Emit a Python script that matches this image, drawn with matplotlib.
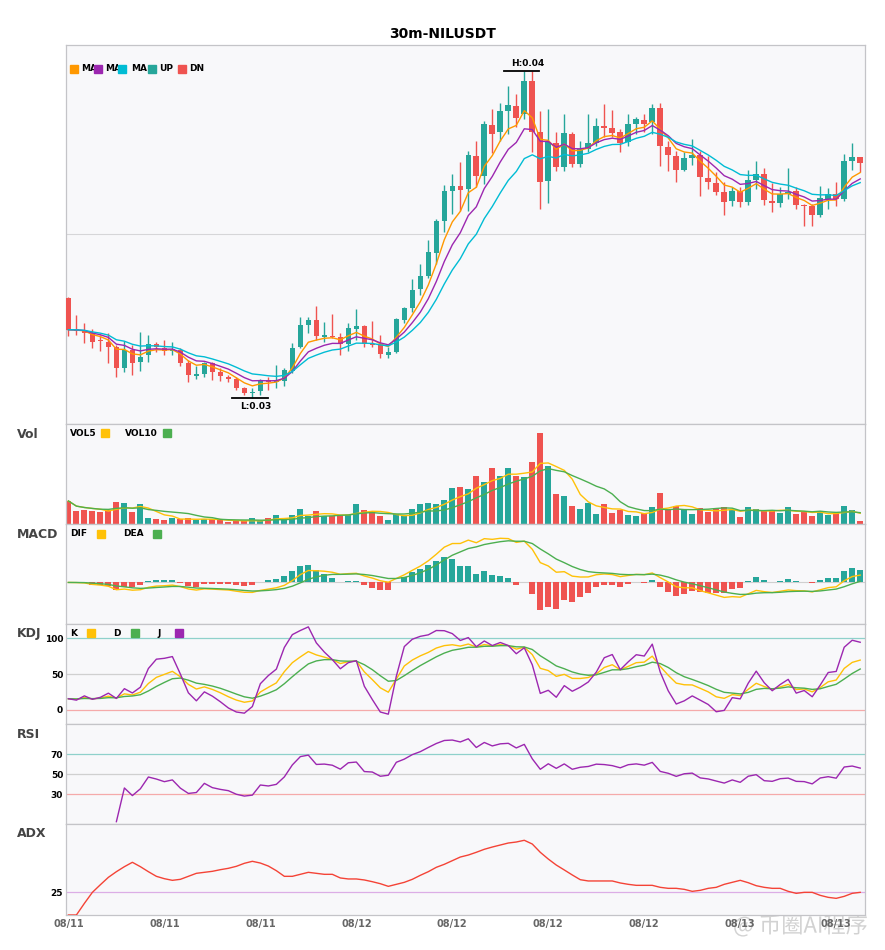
import numpy as np
import pandas as pd
import matplotlib
matplotlib.use("Agg")
import matplotlib.pyplot as plt
import matplotlib.patheffects as pe
from matplotlib.transforms import Bbox, TransformedBbox

TITLE = "30m-NILUSDT"

opens = [0.03408, 0.03284, 0.03280, 0.03268, 0.03240, 0.03232, 0.03212, 0.03128, 0.03200, 0.03152,
         0.03180, 0.03224, 0.03208, 0.03196, 0.03200, 0.03148, 0.03096, 0.03104, 0.03148, 0.03112,
         0.03092, 0.03084, 0.03048, 0.03028, 0.03036, 0.03080, 0.03072, 0.03076, 0.03116, 0.03212,
         0.03300, 0.03320, 0.03252, 0.03256, 0.03252, 0.03224, 0.03284, 0.03296, 0.03224, 0.03220,
         0.03180, 0.03192, 0.03320, 0.03368, 0.03444, 0.03496, 0.03588, 0.03712, 0.03832, 0.03852,
         0.03840, 0.03972, 0.03892, 0.04096, 0.04068, 0.04152, 0.04172, 0.04140, 0.04272, 0.04068,
         0.03872, 0.04024, 0.03928, 0.04060, 0.03940, 0.04000, 0.04024, 0.04092, 0.04084, 0.04068,
         0.04028, 0.04100, 0.04116, 0.04108, 0.04164, 0.04008, 0.03972, 0.03916, 0.03964, 0.03976,
         0.03884, 0.03864, 0.03828, 0.03792, 0.03832, 0.03788, 0.03876, 0.03900, 0.03792, 0.03784,
         0.03820, 0.03832, 0.03776, 0.03772, 0.03736, 0.03800, 0.03820, 0.03800, 0.03952, 0.03968]
highs = [0.03412, 0.03340, 0.03308, 0.03284, 0.03260, 0.03268, 0.03220, 0.03236, 0.03220, 0.03272,
         0.03260, 0.03232, 0.03240, 0.03232, 0.03208, 0.03160, 0.03136, 0.03152, 0.03152, 0.03128,
         0.03100, 0.03092, 0.03052, 0.03048, 0.03084, 0.03092, 0.03140, 0.03128, 0.03228, 0.03332,
         0.03332, 0.03376, 0.03312, 0.03344, 0.03268, 0.03308, 0.03364, 0.03300, 0.03316, 0.03260,
         0.03212, 0.03328, 0.03372, 0.03484, 0.03544, 0.03640, 0.03720, 0.03856, 0.03900, 0.03948,
         0.03992, 0.04032, 0.04112, 0.04160, 0.04184, 0.04252, 0.04220, 0.04312, 0.04312, 0.04152,
         0.04160, 0.04068, 0.04140, 0.04068, 0.04032, 0.04140, 0.04124, 0.04180, 0.04156, 0.04080,
         0.04140, 0.04128, 0.04140, 0.04180, 0.04184, 0.04032, 0.03992, 0.03988, 0.04040, 0.03992,
         0.03972, 0.03908, 0.03868, 0.03848, 0.03848, 0.03916, 0.03952, 0.03924, 0.03864, 0.03848,
         0.03924, 0.03848, 0.03780, 0.03780, 0.03852, 0.03844, 0.03868, 0.03980, 0.04024, 0.03968]
lows = [0.03256, 0.03260, 0.03228, 0.03208, 0.03196, 0.03148, 0.03092, 0.03112, 0.03100, 0.03116,
        0.03152, 0.03192, 0.03180, 0.03180, 0.03136, 0.03072, 0.03084, 0.03092, 0.03080, 0.03076,
        0.03072, 0.03040, 0.03020, 0.03008, 0.03020, 0.03040, 0.03048, 0.03056, 0.03108, 0.03208,
        0.03268, 0.03240, 0.03232, 0.03248, 0.03180, 0.03196, 0.03240, 0.03212, 0.03212, 0.03168,
        0.03168, 0.03188, 0.03308, 0.03352, 0.03420, 0.03488, 0.03544, 0.03668, 0.03740, 0.03752,
        0.03752, 0.03848, 0.03860, 0.03984, 0.04032, 0.04060, 0.04088, 0.04120, 0.03988, 0.03760,
        0.03784, 0.03912, 0.03912, 0.03928, 0.03928, 0.03988, 0.04012, 0.04048, 0.04048, 0.03988,
        0.04012, 0.04060, 0.04068, 0.04060, 0.03932, 0.03912, 0.03868, 0.03912, 0.03936, 0.03812,
        0.03840, 0.03816, 0.03736, 0.03772, 0.03768, 0.03776, 0.03840, 0.03776, 0.03748, 0.03768,
        0.03800, 0.03760, 0.03692, 0.03692, 0.03728, 0.03760, 0.03772, 0.03792, 0.03916, 0.03908]
closes = [0.03280, 0.03276, 0.03268, 0.03232, 0.03236, 0.03212, 0.03128, 0.03200, 0.03148, 0.03172,
          0.03224, 0.03212, 0.03196, 0.03204, 0.03148, 0.03100, 0.03104, 0.03148, 0.03112, 0.03096,
          0.03084, 0.03048, 0.03028, 0.03032, 0.03080, 0.03072, 0.03080, 0.03120, 0.03208, 0.03300,
          0.03320, 0.03256, 0.03260, 0.03252, 0.03224, 0.03288, 0.03296, 0.03224, 0.03220, 0.03184,
          0.03192, 0.03324, 0.03368, 0.03440, 0.03496, 0.03592, 0.03712, 0.03832, 0.03852, 0.03836,
          0.03976, 0.03892, 0.04100, 0.04060, 0.04152, 0.04176, 0.04124, 0.04272, 0.04068, 0.03868,
          0.04028, 0.03928, 0.04064, 0.03940, 0.04000, 0.04024, 0.04092, 0.04084, 0.04064, 0.04024,
          0.04100, 0.04120, 0.04100, 0.04164, 0.04012, 0.03976, 0.03916, 0.03964, 0.03976, 0.03888,
          0.03868, 0.03828, 0.03788, 0.03832, 0.03788, 0.03876, 0.03900, 0.03796, 0.03784, 0.03820,
          0.03828, 0.03776, 0.03772, 0.03736, 0.03804, 0.03820, 0.03800, 0.03952, 0.03968, 0.03944]
volumes = [230, 127, 137, 127, 117, 137, 217, 207, 117, 197,
           57, 47, 37, 57, 47, 57, 37, 47, 47, 37,
           17, 27, 27, 57, 27, 57, 87, 47, 87, 147,
           77, 127, 77, 77, 87, 87, 197, 137, 127, 77,
           37, 97, 77, 147, 197, 207, 197, 237, 357, 367,
           347, 477, 417, 557, 477, 557, 477, 467, 617, 907,
           577, 297, 277, 177, 147, 207, 97, 197, 107, 137,
           87, 77, 107, 167, 307, 137, 177, 137, 97, 157,
           117, 147, 167, 137, 67, 167, 147, 137, 127, 107,
           167, 97, 127, 77, 127, 87, 107, 177, 137, 27]
adx_vals = [0, 0, 12.8, 24.9, 33.3, 41.4, 47.6, 53.1, 57.9, 53.1,
            47.6, 42.5, 39.9, 38.1, 39.2, 42.5, 45.8, 46.9, 48.0, 49.8,
            51.3, 53.5, 56.8, 59.0, 57.1, 53.8, 48.7, 42.5, 42.5, 44.7,
            46.9, 45.8, 44.7, 44.7, 40.7, 39.6, 39.6, 38.5, 36.6, 34.4,
            31.5, 33.7, 35.9, 39.2, 43.6, 47.6, 52.4, 55.7, 59.7, 63.7,
            65.9, 68.9, 72.2, 74.7, 76.9, 79.1, 80.2, 82.1, 78.0, 68.9,
            61.5, 54.9, 49.5, 44.0, 38.8, 37.4, 37.4, 37.4, 37.4, 35.2,
            33.7, 32.6, 32.6, 32.6, 30.4, 29.3, 29.3, 28.2, 26.0, 27.1,
            29.3, 30.4, 33.7, 35.9, 38.1, 35.5, 32.2, 30.4, 29.3, 29.3,
            26.0, 23.8, 24.9, 24.9, 21.6, 19.4, 18.3, 20.5, 23.8, 24.9]
times = pd.date_range("2024-08-11 06:00", periods=len(closes), freq="30min")
ma_spans = [5, 8, 13]
macd_fast, macd_slow, macd_signal = 6, 13, 6

UP, DN = "#26a69a", "#ef5350"
MA_COLORS = ["#ff9800", "#9c27b0", "#00bcd4"]
YEL, GRN, PUR = "#ffc107", "#4caf50", "#9c27b0"
BG = "#f8f8fa"
SPINE = "#c4c4c8"

c = pd.Series(closes)
o = pd.Series(opens)
h = pd.Series(highs)
l = pd.Series(lows)
v = pd.Series(volumes, dtype=float)
x = np.arange(len(c))
up = (c >= o).values

ma_lines = [c.ewm(span=n, adjust=False).mean() for n in ma_spans]
ma_labels = [f"MA{n}" for n in ma_spans]

vol5 = v.rolling(5, min_periods=1).mean()
vol10 = v.rolling(10, min_periods=1).mean()

dif = c.ewm(span=macd_fast, adjust=False).mean() - c.ewm(span=macd_slow, adjust=False).mean()
dea = dif.ewm(span=macd_signal, adjust=False).mean()
macd_hist = 2 * (dif - dea)

low9 = l.rolling(9, min_periods=1).min()
high9 = h.rolling(9, min_periods=1).max()
rsv = (c - low9) / (high9 - low9) * 100
k_line = rsv.ewm(com=2, adjust=False).mean()
d_line = k_line.ewm(com=2, adjust=False).mean()
j_line = 3 * k_line - 2 * d_line

delta = c.diff()
avg_gain = delta.clip(lower=0).ewm(alpha=1 / 14, min_periods=6).mean()
avg_loss = (-delta.clip(upper=0)).ewm(alpha=1 / 14, min_periods=6).mean()
rsi = 100 * avg_gain / (avg_gain + avg_loss)

W, H = 885, 950
fig = plt.figure(figsize=(W / 100, H / 100), dpi=100)


def panel(top, bottom, share=None):
    ax = fig.add_axes([66 / W, 1 - bottom / H, 799 / W, (bottom - top) / H], sharex=share)
    ax.set_facecolor(BG)
    for s in ax.spines.values():
        s.set_color(SPINE)
        s.set_linewidth(0.9)
    ax.tick_params(length=0, labelbottom=False, labelleft=False)
    return ax


ax_p = panel(45, 424)
ax_v = panel(424, 524, ax_p)
ax_m = panel(524, 624, ax_p)
ax_k = panel(624, 724, ax_p)
ax_r = panel(724, 824, ax_p)
ax_a = panel(824, 915, ax_p)


def key(ax, items, y, size=6.5):
    # label + colour square; the next square sits over the tail of the label, as in the original
    sq_w = 4.4 / 799
    for n, (lab, tx, sq, col) in enumerate(items):
        t = ax.text(tx, y, lab, transform=ax.transAxes, fontsize=size, fontweight="bold",
                    va="center", ha="left", zorder=6)
        if n + 1 < len(items):
            t.set_clip_box(TransformedBbox(Bbox([[tx, 0], [items[n + 1][2] - sq_w, 1]]), ax.transAxes))
            t.set_clip_on(True)
        ax.plot([sq], [y], marker="s", ms=6.3, color=col, transform=ax.transAxes,
                clip_on=False, zorder=7, linestyle="none")


# price panel
ax_p.vlines(x, l, h, colors=np.where(up, UP, DN), lw=1.0, zorder=2)
body = np.maximum((c - o).abs().values, 0.000025)
ax_p.bar(x, body, bottom=np.minimum(o, c), width=0.7, color=np.where(up, UP, DN), zorder=3)
for s, col in zip(ma_lines, MA_COLORS):
    ax_p.plot(x, s, color=col, lw=1.0, zorder=4)
rng = h.max() - l.min()
ax_p.set_ylim(l.min() - 0.08 * rng, h.max() + 0.08 * rng)
ax_p.set_xlim(-0.3, len(c) - 0.4)
ax_p.set_yticks([(l.min() + h.max()) / 2])
ax_p.grid(axis="y", color="#d6d6d8", lw=0.8)
ax_p.set_axisbelow(True)
hi, lo = int(h.idxmax()), int(l.idxmin())
ax_p.plot([hi - 2.5, hi + 1.9], [h[hi]] * 2, color="black", lw=1.3, zorder=5)
ax_p.annotate(f"H:{h[hi]:.2f}", (hi + 0.4, h[hi]), xytext=(0, 2), textcoords="offset points",
              ha="center", va="bottom", fontsize=6.5, fontweight="bold")
ax_p.plot([lo - 2.5, lo + 1.9], [l[lo]] * 2, color="black", lw=1.3, zorder=5)
ax_p.annotate(f"L:{l[lo]:.2f}", (lo + 0.4, l[lo]), xytext=(0, -3), textcoords="offset points",
              ha="center", va="top", fontsize=6.5, fontweight="bold")
key(ax_p, [(ma_labels[0], 0.0188, 0.0100, MA_COLORS[0]),
           (ma_labels[1], 0.0488, 0.0400, MA_COLORS[1]),
           (ma_labels[2], 0.0814, 0.0700, MA_COLORS[2]),
           ("UP", 0.1164, 0.1076, UP),
           ("DN", 0.1540, 0.1450, DN)], 0.937)

# volume
ax_v.bar(x, v, width=0.75, color=np.where(up, UP, DN), zorder=2)
ax_v.plot(x, vol5, color=YEL, lw=1.0, zorder=3)
ax_v.plot(x, vol10, color=GRN, lw=1.0, zorder=3)
ax_v.set_ylim(0, v.max() * 1.1)
key(ax_v, [("VOL5", 0.005, 0.0488, YEL), ("VOL10", 0.0738, 0.1264, GRN)], 0.91)

# macd
ax_m.axhline(0, color="#d0d0d0", lw=0.8, zorder=1)
ax_m.bar(x, macd_hist, width=0.75, color=np.where(macd_hist >= 0, UP, DN), zorder=2)
ax_m.plot(x, dif, color=YEL, lw=1.0, zorder=3)
ax_m.plot(x, dea, color=GRN, lw=1.0, zorder=3)
mlo = min(dif.min(), dea.min(), macd_hist.min())
mhi = max(dif.max(), dea.max(), macd_hist.max())
ax_m.set_ylim(mlo - 0.2 * (mhi - mlo), mhi + 0.2 * (mhi - mlo))
key(ax_m, [("DIF", 0.005, 0.0438, YEL), ("DEA", 0.0713, 0.1139, GRN)], 0.90)

# kdj
for lvl, col in [(100, "#8fd1cb"), (50, "#d0d0d0"), (0, "#f5aaaa")]:
    ax_k.axhline(lvl, color=col, lw=0.9, zorder=1)
ax_k.plot(x, k_line, color=YEL, lw=1.0, zorder=3)
ax_k.plot(x, d_line, color=GRN, lw=1.0, zorder=3)
ax_k.plot(x, j_line, color=PUR, lw=1.0, zorder=3)
ax_k.set_ylim(-20, 120)
ax_k.set_yticks([0, 50, 100])
key(ax_k, [("K", 0.005, 0.0313, YEL), ("D", 0.0588, 0.0864, GRN), ("J", 0.1139, 0.1414, PUR)], 0.907)

# rsi
for lvl, col in [(70, "#8fd1cb"), (50, "#d0d0d0"), (30, "#f5aaaa")]:
    ax_r.axhline(lvl, color=col, lw=0.9, zorder=1)
ax_r.plot(x, rsi, color=PUR, lw=1.0, zorder=3)
ax_r.set_ylim(0, 100)
ax_r.set_yticks([30, 50, 70])

# adx
ax_a.axhline(25, color="#dcaee6", lw=0.9, zorder=1)
ax_a.plot(x, adx_vals, color="#f44336", lw=1.0, zorder=3)
ax_a.set_ylim(0, 100)
ax_a.set_yticks([25])

for ax in (ax_k, ax_r, ax_a):
    ax.tick_params(axis="y", labelleft=True, labelsize=6.5, pad=2)
    for t in ax.get_yticklabels():
        t.set_fontweight("bold")

ticks = x[::12]
ax_a.set_xticks(ticks)
ax_a.set_xticklabels([times[i].strftime("%m/%d") for i in ticks])
ax_a.tick_params(axis="x", labelbottom=True, labelsize=7, labelcolor="#666666", pad=3)
for t in ax_a.get_xticklabels():
    t.set_fontweight("bold")

for ax, name in [(ax_v, "Vol"), (ax_m, "MACD"), (ax_k, "KDJ"), (ax_r, "RSI"), (ax_a, "ADX")]:
    ax.text(-49 / 799, 0.9, name, transform=ax.transAxes, fontsize=9, fontweight="bold",
            color="#444444", ha="left", va="center")

fig.text(0.5, 1 - 34 / H, TITLE, ha="center", va="center", fontsize=10, fontweight="bold")
# watermark sits under the axes so the date labels show through it
fig.text(733 / W, 1 - 926 / H, "@ 币圈AI程序", fontsize=16, color="#d2d2d2", ha="left", va="center",
         family=["Noto Sans CJK SC", "DejaVu Sans"], zorder=-1,
         path_effects=[pe.withStroke(linewidth=2, foreground="white")])

fig.savefig("out.png", dpi=100)
